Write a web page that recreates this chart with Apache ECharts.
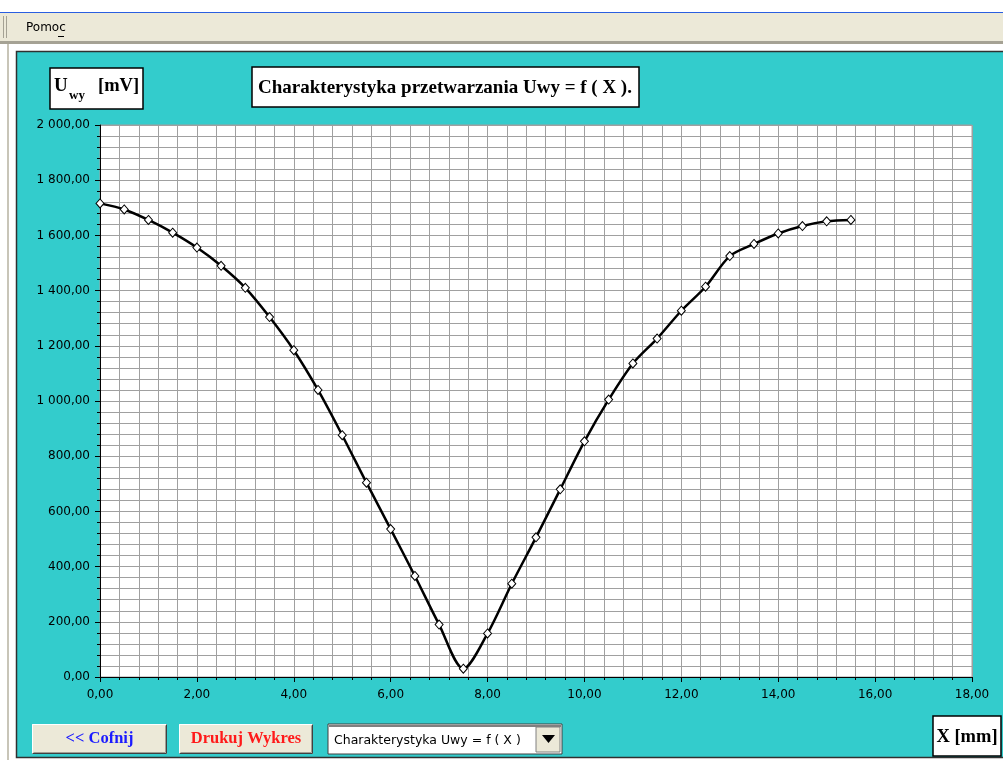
<!DOCTYPE html>
<html>
<head>
<meta charset="utf-8">
<script src="https://cdn.jsdelivr.net/npm/echarts@6/dist/echarts.min.js"></script>
<style>html,body{margin:0;padding:0;background:#fff;}#c{width:1003px;height:760px;}</style>
</head>
<body>
<div id="c"></div>
<script>
// ---- data ----
const xValues = [0,0.5,1,1.5,2,2.5,3,3.5,4,4.5,5,5.5,6,6.5,7,7.5,8,8.5,9,9.5,10,10.5,11,11.5,12,12.5,13,13.5,14,14.5,15,15.5];
const uValues = [1716,1694,1656,1610,1556,1490,1410,1304,1184,1040,876,704,536,366,190,30,158,338,506,680,854,1005,1136,1226,1327,1414,1525,1569,1607,1634,1651,1656];
const xTickLabels = ['0,00','2,00','4,00','6,00','8,00','10,00','12,00','14,00','16,00','18,00'];
const yTickLabels = ['0,00','200,00','400,00','600,00','800,00','1 000,00','1 200,00','1 400,00','1 600,00','1 800,00','2 000,00'];
const titleText = 'Charakterystyka przetwarzania Uwy = f ( X ).';
const comboText = 'Charakterystyka Uwy = f ( X )';

const chart = echarts.init(document.getElementById('c'), null, {renderer:'canvas'});
const serif = 'Liberation Serif';
const sans = 'DejaVu Sans';

function bevelButton(x, y, w, h, label, color) {
  return [
    {type:'rect', shape:{x:x, y:y, width:w, height:h}, style:{fill:'#ECE9D8', stroke:null}, z:50},
    {type:'polyline', shape:{points:[[x+0.5,y+h-0.5],[x+0.5,y+0.5],[x+w-0.5,y+0.5]]}, style:{stroke:'#ffffff', lineWidth:1, fill:null}, z:51},
    {type:'polyline', shape:{points:[[x+0.5,y+h-0.5],[x+w-0.5,y+h-0.5],[x+w-0.5,y+0.5]]}, style:{stroke:'#404040', lineWidth:1, fill:null}, z:51},
    {type:'polyline', shape:{points:[[x+1.5,y+h-1.5],[x+w-1.5,y+h-1.5],[x+w-1.5,y+1.5]]}, style:{stroke:'#a09e94', lineWidth:1, fill:null}, z:51},
    {type:'text', x:x+w/2, y:y+h/2, style:{text:label, fill:color, font:'bold 16.5px "'+serif+'"', textAlign:'center', textVerticalAlign:'middle'}, z:52}
  ];
}

const graphics = [
  // window chrome
  {type:'rect', shape:{x:0, y:0, width:1003, height:52}, style:{fill:'#ffffff'}, z:1},
  {type:'rect', shape:{x:0, y:0, width:17, height:760}, style:{fill:'#ffffff'}, z:1},
  {type:'rect', shape:{x:0, y:758, width:1003, height:2}, style:{fill:'#ffffff'}, z:1},
  {type:'rect', shape:{x:0, y:12, width:1003, height:1}, style:{fill:'#2a5ee0'}, z:2},
  {type:'rect', shape:{x:0, y:13, width:1003, height:28}, style:{fill:'#ECE9D8'}, z:2},
  {type:'rect', shape:{x:0, y:41, width:1003, height:3}, style:{fill:'#a5a294'}, z:2},
  {type:'rect', shape:{x:3, y:16, width:1, height:22}, style:{fill:'#a5a294'}, z:3},
  {type:'rect', shape:{x:6, y:16, width:1, height:22}, style:{fill:'#a5a294'}, z:3},
  {type:'rect', shape:{x:7, y:44, width:2, height:716}, style:{fill:'#c8c5b8'}, z:2},
  {type:'text', x:26, y:28, style:{text:'Pomoc', fill:'#000', font:'12px "'+sans+'"', textVerticalAlign:'middle'}, z:3},
  {type:'rect', shape:{x:58, y:36, width:6, height:1}, style:{fill:'#000'}, z:3},
  // teal panel border
  {type:'rect', shape:{x:16.5, y:51.5, width:990, height:706}, style:{fill:null, stroke:'#303030', lineWidth:1.5}, z:3},

  // Y label box
  {type:'rect', shape:{x:50, y:68, width:93, height:41}, style:{fill:'#fff', stroke:'#000', lineWidth:1.5}, z:50},
  {type:'text', x:54, y:96, style:{text:'U', fill:'#000', font:'bold 19px "'+serif+'"', textVerticalAlign:'bottom'}, z:51},
  {type:'text', x:69, y:102, style:{text:'wy', fill:'#000', font:'bold 13px "'+serif+'"', textVerticalAlign:'bottom'}, z:51},
  {type:'text', x:98, y:96, style:{text:'[mV]', fill:'#000', font:'bold 18.5px "'+serif+'"', textVerticalAlign:'bottom'}, z:51},

  // Title box
  {type:'rect', shape:{x:252, y:67, width:387, height:40}, style:{fill:'#fff', stroke:'#000', lineWidth:1.5}, z:50},
  {type:'text', x:445, y:88, style:{text:titleText, fill:'#000', font:'bold 19px "'+serif+'"', textAlign:'center', textVerticalAlign:'middle'}, z:51},

  // X label box
  {type:'rect', shape:{x:933, y:716, width:68, height:40}, style:{fill:'#fff', stroke:'#000', lineWidth:1.5}, z:50},
  {type:'text', x:967, y:737, style:{text:'X [mm]', fill:'#000', font:'bold 18.5px "'+serif+'"', textAlign:'center', textVerticalAlign:'middle'}, z:51},

  // combo box
  {type:'rect', shape:{x:328, y:724, width:234, height:30}, style:{fill:'#fff', stroke:'#404040', lineWidth:1}, z:50},
  {type:'rect', shape:{x:329, y:725, width:232, height:2}, style:{fill:'#808080'}, z:51},
  {type:'text', x:334, y:741, style:{text:comboText, fill:'#000', font:'12.5px "'+sans+'"', textVerticalAlign:'middle'}, z:51},
  {type:'rect', shape:{x:536, y:727, width:24, height:25}, style:{fill:'#ECE9D8', stroke:'#808080', lineWidth:1}, z:51},
  {type:'polygon', shape:{points:[[542,735],[555,735],[548.5,743]]}, style:{fill:'#000'}, z:52}
].concat(
  bevelButton(32, 724, 135, 30, '<< Cofnij', '#1a1aff'),
  bevelButton(179, 724, 134, 30, 'Drukuj Wykres', '#ff1a1a')
);

const option = {
  backgroundColor: '#33CCCC',
  animation: false,
  grid: {left:100, right:31, top:125, bottom:83, show:true, backgroundColor:'#ffffff', borderColor:'#a0a0a0', borderWidth:1},
  xAxis: {
    type:'value', min:0, max:18, interval:2,
    axisLine:{show:true, onZero:false, lineStyle:{color:'#000', width:1}},
    axisTick:{show:true, length:5, lineStyle:{color:'#000'}},
    minorTick:{show:true, splitNumber:5, length:3, lineStyle:{color:'#000'}},
    splitLine:{show:true, lineStyle:{color:'#a0a0a0', width:1}},
    minorSplitLine:{show:true, lineStyle:{color:'#a0a0a0', width:1}},
    axisLabel:{margin:12, color:'#000', fontFamily:sans, fontSize:12,
      formatter:function(v){return xTickLabels[Math.round(v/2)];}}
  },
  yAxis: {
    type:'value', min:0, max:2000, interval:200,
    axisLine:{show:true, onZero:false, lineStyle:{color:'#000', width:1}},
    axisTick:{show:true, length:5, lineStyle:{color:'#000'}},
    minorTick:{show:true, splitNumber:5, length:3, lineStyle:{color:'#000'}},
    splitLine:{show:true, lineStyle:{color:'#a0a0a0', width:1}},
    minorSplitLine:{show:true, lineStyle:{color:'#a0a0a0', width:1}},
    axisLabel:{margin:10, color:'#000', fontFamily:sans, fontSize:12,
      formatter:function(v){return yTickLabels[Math.round(v/200)];}}
  },
  series: [{
    type:'line',
    data: xValues.map((x,i)=>[x, uValues[i]]),
    smooth:0.3,
    lineStyle:{color:'#000', width:2.5},
    symbol:'diamond', symbolSize:[8,9], showAllSymbol:true,
    itemStyle:{color:'#fff', borderColor:'#000', borderWidth:1},
    z:10
  }],
  graphic: graphics
};
chart.setOption(option);
</script>
</body>
</html>
